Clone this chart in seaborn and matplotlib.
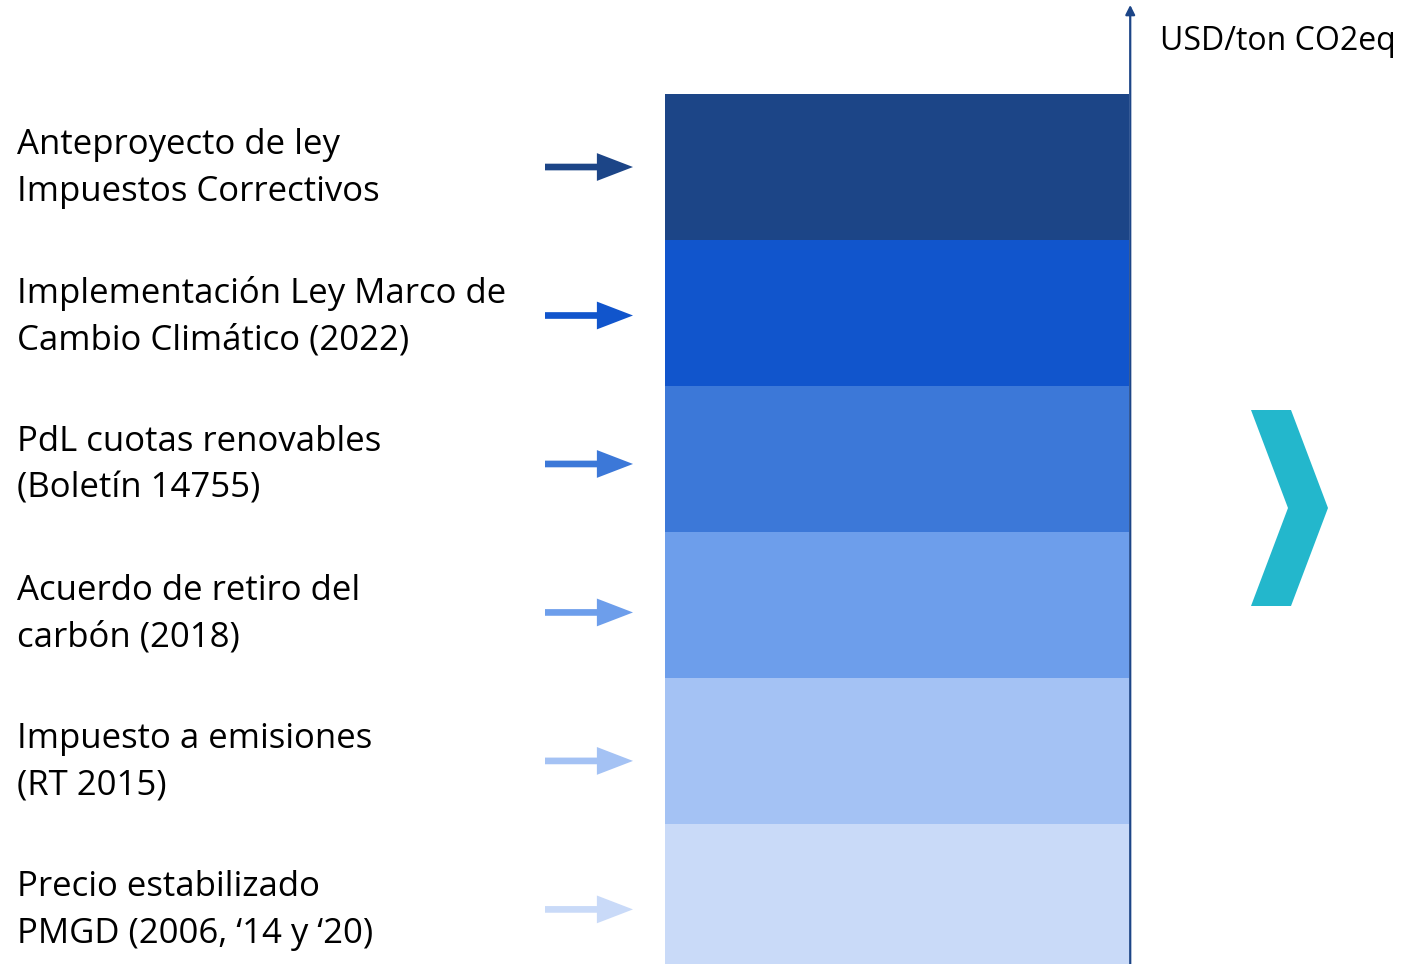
import pandas as pd
import seaborn as sns
import matplotlib.pyplot as plt
from matplotlib.patches import Polygon

# Instruments, from top to bottom of the stack
labels = [
    "Anteproyecto de ley\nImpuestos Correctivos",
    "Implementación Ley Marco de\nCambio Climático (2022)",
    "PdL cuotas renovables\n(Boletín 14755)",
    "Acuerdo de retiro del\ncarbón (2018)",
    "Impuesto a emisiones\n(RT 2015)",
    "Precio estabilizado\nPMGD (2006, ‘14 y ‘20)",
]
segment = [1, 1, 1, 1, 1, 1]
colors = ["#1c4587", "#1155cc", "#3c78d8", "#6d9eeb", "#a4c2f4", "#c9daf8"]
axis_label = "USD/ton CO2eq"


def build_stack():
    # stack from the bottom up: last label sits on the floor
    df = pd.DataFrame({"label": labels, "value": segment, "color": colors})
    df["rank"] = range(len(df))
    df = df.iloc[::-1].reset_index(drop=True)
    df["bottom"] = df["value"].cumsum() - df["value"]
    df["col"] = "stack"
    return df


def plot_stack(df):
    sns.set_style("white")
    plt.rcParams["font.family"] = ["Open Sans", "DejaVu Sans"]

    fig = plt.figure(figsize=(14.04, 9.64), dpi=100)
    ax = fig.add_axes([0, 0, 1, 1])

    for _, row in df.iterrows():
        sns.barplot(x=[row["col"]], y=[row["value"]], bottom=row["bottom"],
                    color=row["color"], width=0.8, ax=ax, linewidth=0,
                    saturation=1)

    total = df["value"].sum()
    ax.set_xlim(-1.5466, 0.874)
    ax.set_ylim(total - 5.959, total + 0.644)
    ax.axis("off")

    # vertical value axis on the right edge of the stack
    ax.annotate("", xy=(0.402, total + 0.61), xytext=(0.402, total - 6.2),
                arrowprops=dict(arrowstyle="-|>", color="#1c4587", lw=1.6,
                                mutation_scale=14, shrinkA=0, shrinkB=0))
    fig.text(1160 / 1404, 1 - 42 / 964, axis_label, fontsize=23,
             va="center", ha="left", color="black")

    # labels and arrows pointing at each segment (spacing a bit wider than the bars)
    tr = ax.get_yaxis_transform()
    for _, row in df.iterrows():
        y = total - 0.5 - row["rank"] * 1.017
        ax.text(0.012, y - 0.01, row["label"], transform=tr, fontsize=25,
                va="center", ha="left", linespacing=1.49, color="black")
        ax.annotate("", xy=(633 / 1404, y), xycoords=tr,
                    xytext=(545 / 1404, y), textcoords=tr,
                    arrowprops=dict(arrowstyle="simple,head_length=1.3,head_width=1.0,tail_width=0.24",
                                    color=row["color"], mutation_scale=20,
                                    shrinkA=0, shrinkB=0, lw=0))

    # chevron on the right
    pts = [(1251, 410), (1291, 410), (1328, 508), (1291, 606), (1251, 606), (1288, 508)]
    chevron = Polygon([(x / 1404, 1 - y / 964) for x, y in pts], closed=True,
                      transform=fig.transFigure, facecolor="#23b7cc", edgecolor="none")
    fig.patches.append(chevron)

    fig.savefig("out.png", dpi=100)


def main():
    df = build_stack()
    plot_stack(df)


if __name__ == "__main__":
    main()
